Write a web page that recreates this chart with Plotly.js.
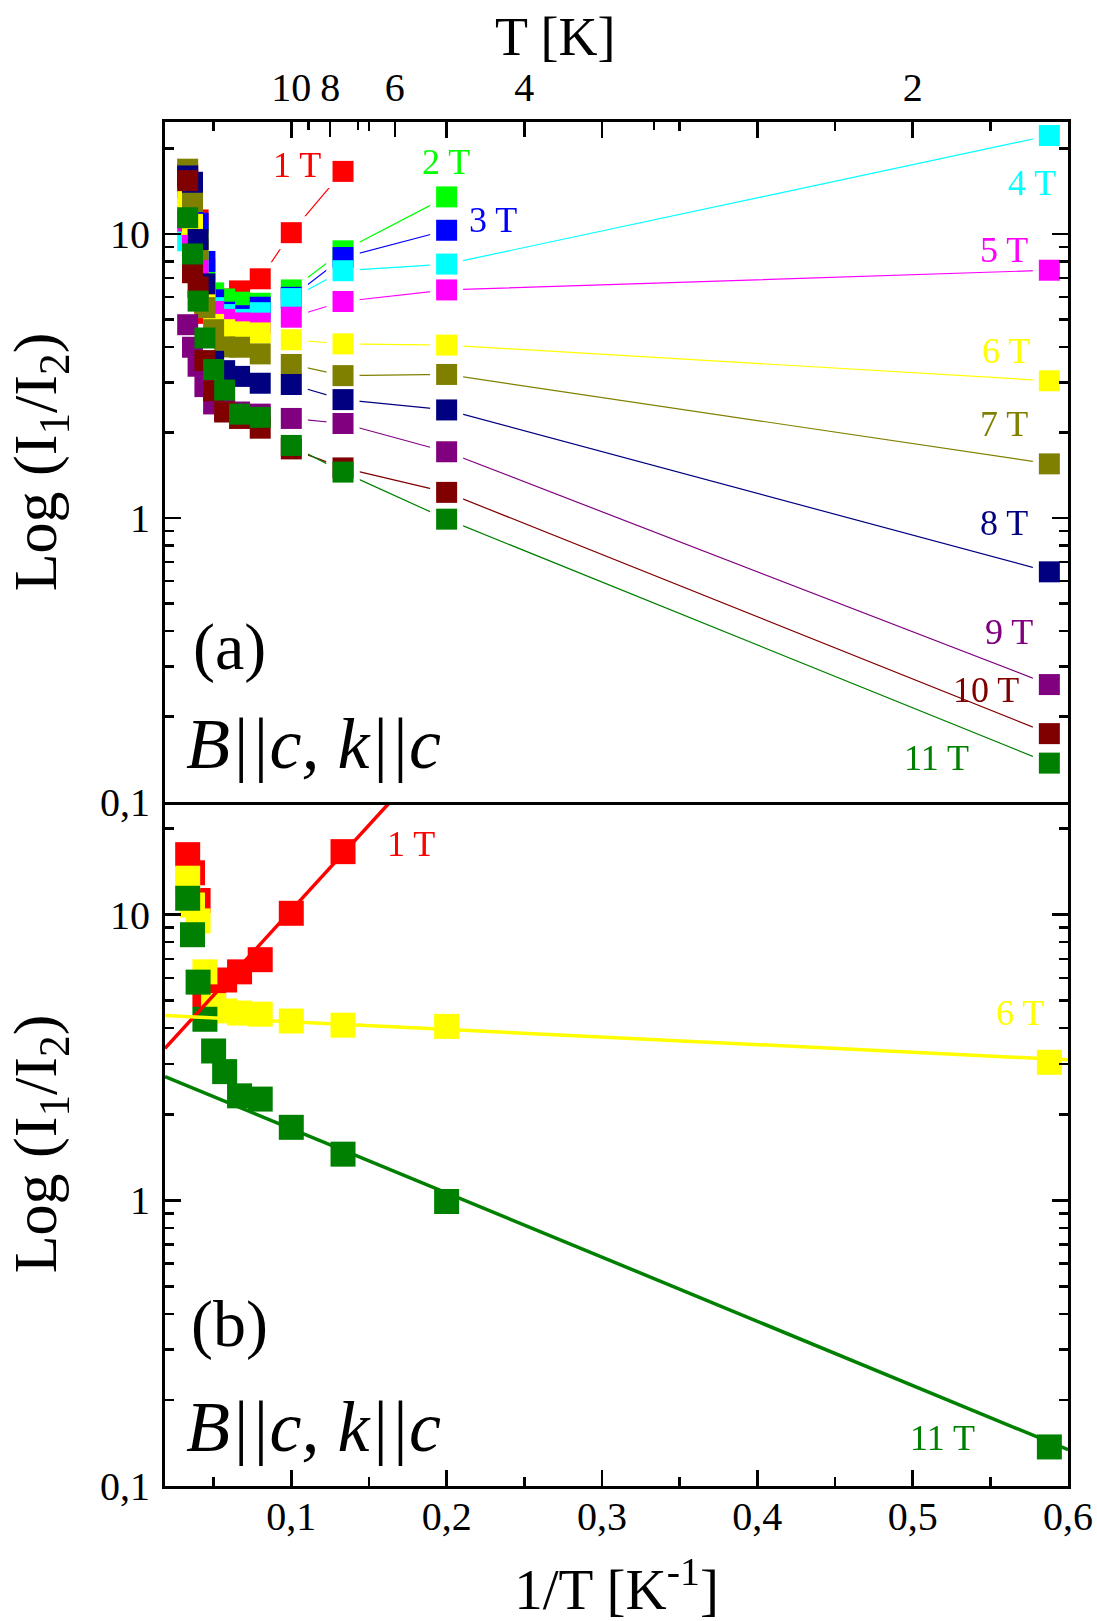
<!DOCTYPE html>
<html><head><meta charset="utf-8">
<script src="https://cdn.plot.ly/plotly-3.0.1.min.js"></script>
<style>html,body{margin:0;padding:0;background:#fff}#chart{width:1097px;height:1621px}</style>
</head><body><div id="chart"></div>
<script>
// ---------- DATA ----------
// inverse temperature 1/T [1/K] for T = 30, 27.5, 25, 22.5, 20, 17.5, 15, 12.5, 10, 7.5, 5, 1.7 K
const invT = [0.0333, 0.0364, 0.04, 0.0444, 0.05, 0.0571, 0.0667, 0.08, 0.1, 0.1333, 0.2, 0.588];
const fieldLabels = ['1 T','2 T','3 T','4 T','5 T','6 T','7 T','8 T','9 T','10 T','11 T'];
const r1T  = [16.2, 14.0, 11.2, 5.25, 5.6, 5.9, 6.3, 6.95, 10.1, 16.6];
const r2T  = [15.0, 12.5, 10.0, 7.5, 6.2, 5.9, 5.75, 5.7, 6.35, 8.72, 13.5];
const r3T  = [14.5, 12.0, 10.9, 8.0, 5.86, 5.3, 5.15, 5.52, 5.98, 8.26, 10.3];
const r4T  = [9.46, 9.0, 8.0, 6.5, 5.5, 5.2, 5.0, 5.28, 5.92, 7.42, 7.83, 22.2];
const r5T  = [11.1, 9.5, 7.5, 6.0, 5.33, 5.0, 4.86, 4.85, 5.09, 5.78, 6.35, 7.45];
const r6T  = [13.4, 10.8, 9.5, 6.3, 4.8, 4.6, 4.52, 4.48, 4.24, 4.10, 4.06, 3.04];
const r7T  = [16.9, 13.0, 8.8, 5.5, 4.6, 4.0, 3.99, 3.78, 3.47, 3.17, 3.20, 1.55];
const r8T  = [16.0, 15.2, 9.56, 6.67, 3.56, 3.3, 3.15, 2.98, 2.95, 2.61, 2.40, 0.646];
const r9T  = [4.79, 3.99, 3.42, 2.9, 2.52, 2.4, 2.36, 2.32, 2.24, 2.15, 1.71, 0.259];
const r10T = [15.4, 7.3, 6.5, 3.58, 2.8, 2.36, 2.24, 2.07, 1.75, 1.50, 1.23, 0.174];
const r11T = [11.4, 8.5, 5.8, 4.3, 3.33, 2.82, 2.32, 2.26, 1.80, 1.45, 0.99, 0.137];
// straight-line fits (log scale) in panel (b): end points
const fit1X  = [0.0187, 0.1634], fit1Y  = [3.4, 24.7];
const fit6X  = [0.0187, 0.6],    fit6Y  = [4.43, 3.1];
const fit11X = [0.0187, 0.6],    fit11Y = [2.71, 0.134];
// tick labels
const xTickVals = [0.1, 0.2, 0.3, 0.4, 0.5, 0.6];
const xTickText = ['0,1','0,2','0,3','0,4','0,5','0,6'];
const xMinorVals = [0.05, 0.15, 0.25, 0.35, 0.45, 0.55];
const tTickLabels = [10, 8, 6, 4, 2];
const tMinorLabels = [20, 9, 7, 5, 3];
const yTickVals = [0.1, 1, 10];
const yTickText = ['0,1', '1', '10'];
const yMinorVals = [0.2,0.3,0.4,0.5,0.6,0.7,0.8,0.9,2,3,4,5,6,7,8,9,20];

// ---------- STYLE ----------
const series = [r1T,r2T,r3T,r4T,r5T,r6T,r7T,r8T,r9T,r10T,r11T];
const colors = ['#FF0000','#00FF00','#0000FF','#00FFFF','#FF00FF','#FFFF00','#808000','#000080','#800080','#800000','#008000'];
const FONT = 'Liberation Serif, Times New Roman, serif';
const traces = [];
// panel (a): connecting lines
series.forEach((ys,i)=>{
  traces.push({x: invT.slice(0,ys.length), y: ys, xaxis:'x2', yaxis:'y2', mode:'lines',
    line:{color:colors[i], width:1.2}, hoverinfo:'skip', showlegend:false});
});
// panel (a): white gaps around symbols
series.forEach((ys,i)=>{
  traces.push({x: invT.slice(0,ys.length), y: ys, xaxis:'x2', yaxis:'y2', mode:'markers',
    marker:{symbol:'square', size:33, color:'#ffffff', line:{width:0}}, hoverinfo:'skip', showlegend:false});
});
// panel (a): symbols
series.forEach((ys,i)=>{
  traces.push({x: invT.slice(0,ys.length), y: ys, xaxis:'x2', yaxis:'y2', mode:'markers', name: fieldLabels[i],
    marker:{symbol:'square', size:21, color:colors[i], line:{width:0}}, showlegend:false});
});
// invisible carrier for the top temperature axis
traces.push({x: invT, y: r11T, xaxis:'x3', yaxis:'y2', mode:'markers', opacity:0, marker:{size:1},
  hoverinfo:'skip', showlegend:false});
// panel (b): symbols
[[r1T,0],[r6T,5],[r11T,10]].forEach(([ys,i])=>{
  traces.push({x: invT.slice(0,ys.length), y: ys, xaxis:'x', yaxis:'y', mode:'markers', name: fieldLabels[i],
    marker:{symbol:'square', size:25, color:colors[i], line:{width:0}}, showlegend:false});
});
// panel (b): fits
[[fit1X,fit1Y,0],[fit6X,fit6Y,5],[fit11X,fit11Y,10]].forEach(([fx,fy,i])=>{
  traces.push({x: fx, y: fy, xaxis:'x', yaxis:'y', mode:'lines', line:{color:colors[i], width:3.5},
    hoverinfo:'skip', showlegend:false});
});

const XR = [0.0187, 0.6], YR = [-1, 1.394];
const tickFont = {family: FONT, size: 40, color:'#000'};
const baseX = {range: XR, showgrid:false, zeroline:false, showline:true, linecolor:'#000', linewidth:3,
  ticks:'inside', ticklen:16, tickwidth:2.5, tickcolor:'#000', tickfont: tickFont,
  tickmode:'array', tickvals: xTickVals, ticktext: xTickText,
  minor:{tickmode:'array', tickvals:xMinorVals, ticks:'inside', ticklen:9, tickwidth:2.5, tickcolor:'#000', showgrid:false}};
const baseY = {type:'log', range: YR, showgrid:false, zeroline:false, showline:true, linecolor:'#000', linewidth:3,
  ticks:'inside', ticklen:16, tickwidth:2.5, tickcolor:'#000', tickfont: tickFont, mirror:'ticks',
  tickmode:'array', tickvals: yTickVals, ticktext: yTickText, ticklabelstandoff: 4,
  minor:{tickmode:'array', tickvals:yMinorVals, ticks:'inside', ticklen:9, tickwidth:2.5, tickcolor:'#000', showgrid:false},
  title:{text:'Log (I<sub>1</sub>/I<sub>2</sub>)', font:{family:FONT, size:62, color:'#000'}, standoff: 24}};

const layout = {
  width:1097, height:1621, margin:{l:165, r:29, t:122, b:135},
  paper_bgcolor:'#fff', plot_bgcolor:'#fff', showlegend:false,
  xaxis: Object.assign({}, baseX, {anchor:'y', domain:[0,1], mirror:false, ticklabelstandoff: -7,
    title:{text:'1/T [K<sup>-1</sup>]', font:{family:FONT, size:57, color:'#000'}, standoff: 33}}),
  xaxis2: Object.assign({}, baseX, {anchor:'y2', domain:[0,1], side:'top', mirror:true, showticklabels:false}),
  xaxis3: {overlaying:'x2', anchor:'y2', side:'top', range: XR, showgrid:false, zeroline:false, showline:false,
    tickmode:'array', tickvals: tTickLabels.map(t=>1/t), ticktext: tTickLabels.map(String),
    ticks:'inside', ticklen:15, tickwidth:2.5, tickcolor:'#000', tickfont: tickFont, ticklabelstandoff: 12,
    minor:{tickmode:'array', tickvals: tMinorLabels.map(t=>1/t), ticks:'inside', ticklen:8, tickwidth:2.5, tickcolor:'#000', showgrid:false}},
  yaxis: Object.assign({}, baseY, {anchor:'x', domain:[0, 0.5015]}),
  yaxis2: Object.assign({}, baseY, {anchor:'x2', domain:[0.5015, 1]}),
  annotations: []
};
const ann = (text, x, y, xref, yref, color, size, opts={}) => Object.assign({text, x, y, xref, yref, showarrow:false,
  font:{family:FONT, size, color}}, opts);
const A = layout.annotations;
// top axis title (placed left of centre, as in the original)
A.push(ann('T [K]', 0.432, 1.0625, 'paper','paper', '#000', 54, {xanchor:'center', yanchor:'middle'}));
// panel (a) labels
A.push(ann('1 T', 0.1035, 1.241, 'x2','y2', colors[0], 36));
A.push(ann('2 T', 0.1994, 1.252, 'x2','y2', colors[1], 36));
A.push(ann('3 T', 0.230, 1.048, 'x2','y2', colors[2], 36));
A.push(ann('4 T', 0.577, 1.179, 'x2','y2', colors[3], 36));
A.push(ann('5 T', 0.5588, 0.943, 'x2','y2', colors[4], 36));
A.push(ann('6 T', 0.560, 0.586, 'x2','y2', colors[5], 36));
A.push(ann('7 T', 0.5588, 0.331, 'x2','y2', colors[6], 36));
A.push(ann('8 T', 0.5588, -0.018, 'x2','y2', colors[7], 36));
A.push(ann('9 T', 0.5621, -0.403, 'x2','y2', colors[8], 36));
A.push(ann('10 T', 0.547, -0.607, 'x2','y2', colors[9], 36));
A.push(ann('11 T', 0.5156, -0.844, 'x2','y2', colors[10], 36));
A.push(ann('(a)', 0.0602, -0.454, 'x2','y2', '#000', 66));
A.push(ann('<i>B||c, k||c</i>', 0.0309, -0.796, 'x2','y2', '#000', 72, {xanchor:'left'}));
// panel (b) labels
A.push(ann('1 T', 0.1773, 1.248, 'x','y', colors[0], 36));
A.push(ann('6 T', 0.5694, 0.654, 'x','y', colors[5], 36));
A.push(ann('11 T', 0.5195, -0.831, 'x','y', colors[10], 36));
A.push(ann('(b)', 0.0602, -0.433, 'x','y', '#000', 66));
A.push(ann('<i>B||c, k||c</i>', 0.0309, -0.795, 'x','y', '#000', 72, {xanchor:'left'}));

Plotly.newPlot('chart', traces, layout, {displayModeBar:false, staticPlot:true});
</script>
</body></html>
